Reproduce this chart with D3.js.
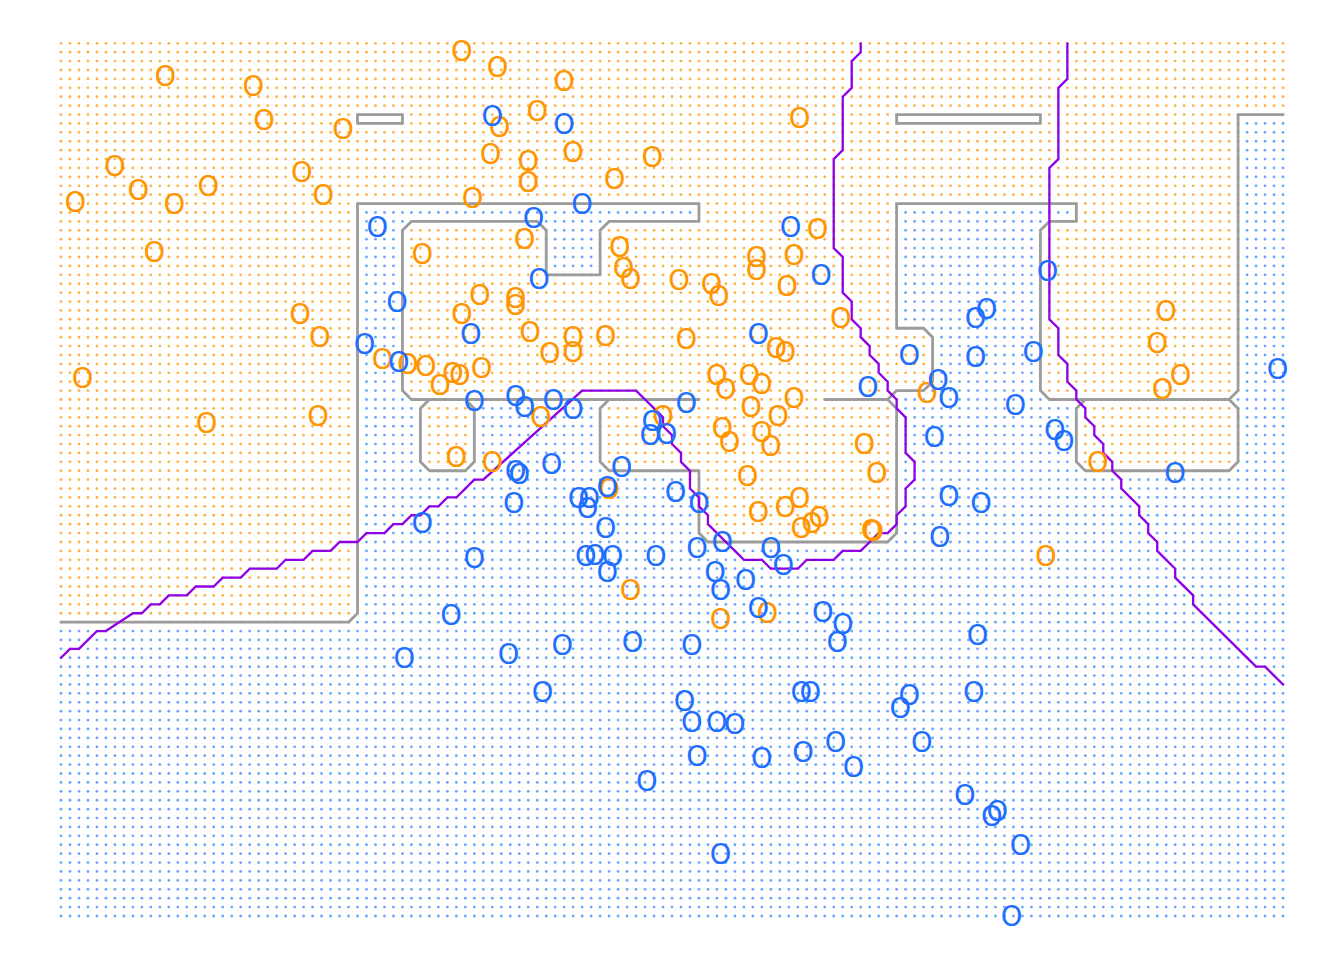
<!DOCTYPE html>
<html><head><meta charset="utf-8">
<script src="https://cdn.jsdelivr.net/npm/d3@7"></script>
<style>html,body{margin:0;padding:0;background:#fff;} svg{display:block;}</style>
</head><body>
<svg id="chart" width="1344" height="960"></svg>
<script>
// ---- data (x1, x2 feature space) ----
const orangePoints = [
[-0.37,2.86],[-0.17,2.77],[0.20,2.69],[-2.02,2.72],[-1.53,2.66],[-1.47,2.47],[-1.03,2.42],[0.05,2.52],[-0.16,2.43],[1.51,2.48],
[0.25,2.29],[-0.21,2.28],[0.00,2.24],[0.69,2.26],[-2.30,2.21],[-1.26,2.18],[-1.78,2.10],[-2.17,2.08],[-1.14,2.05],[0.00,2.12],
[0.48,2.14],[-2.52,2.01],[-1.97,2.00],[-0.31,2.03],[1.61,1.86],[-0.02,1.80],[-0.59,1.72],[-2.08,1.73],[0.51,1.76],[1.27,1.70],
[1.48,1.71],[0.53,1.64],[1.27,1.63],[0.57,1.58],[0.84,1.57],[1.02,1.55],[1.44,1.54],[1.06,1.48],[-0.27,1.49],[-0.07,1.47],
[-0.07,1.43],[-0.37,1.38],[-1.27,1.38],[1.74,1.36],[0.01,1.28],[-1.16,1.25],[0.25,1.25],[0.43,1.26],[0.88,1.24],[0.25,1.17],
[0.12,1.16],[1.38,1.19],[1.43,1.17],[-0.81,1.13],[-0.67,1.10],[-0.57,1.09],[-0.26,1.08],[-0.42,1.05],[-0.38,1.04],[-0.49,0.98],
[-2.48,1.02],[1.23,1.04],[1.05,1.04],[1.30,0.99],[1.10,0.96],[1.48,0.91],[2.22,0.94],[1.24,0.86],[1.39,0.81],[0.07,0.80],
[0.75,0.81],[-1.17,0.81],[-1.79,0.77],[1.08,0.74],[1.30,0.72],[1.12,0.66],[1.35,0.64],[1.87,0.65],[-0.40,0.58],[-0.20,0.55],
[1.22,0.47],[1.94,0.49],[0.45,0.40],[1.51,0.35],[1.43,0.30],[1.28,0.27],[1.62,0.24],[1.58,0.21],[1.52,0.18],[1.92,0.16],
[1.91,0.17],[3.17,0.55],[2.88,0.02],[0.57,-0.17],[1.07,-0.33],[1.33,-0.30],[3.55,1.40],[3.50,1.22],[3.63,1.04],[3.53,0.96]
];
const bluePoints = [
[-0.20,2.49],[0.20,2.45],[0.30,2.00],[0.03,1.92],[-0.84,1.87],[1.46,1.87],[0.06,1.58],[1.63,1.60],[-0.73,1.45],[-0.32,1.27],
[-0.91,1.21],[-0.72,1.11],[1.28,1.27],[2.89,1.62],[2.55,1.41],[2.49,1.36],[2.12,1.15],[2.49,1.14],[2.81,1.17],[1.89,0.97],
[2.28,1.01],[2.34,0.91],[2.71,0.87],[4.17,1.07],[-0.30,0.89],[-0.07,0.92],[-0.02,0.86],[0.14,0.90],[0.25,0.85],[0.88,0.88],
[0.69,0.78],[0.68,0.70],[0.77,0.71],[2.26,0.69],[2.93,0.73],[2.98,0.67],[3.60,0.49],[0.13,0.54],[-0.07,0.50],[-0.05,0.48],
[0.52,0.52],[0.28,0.35],[0.34,0.35],[0.33,0.29],[-0.08,0.32],[0.44,0.41],[0.82,0.38],[0.95,0.32],[2.34,0.36],[2.52,0.32],
[0.43,0.18],[-0.59,0.21],[2.29,0.13],[-0.30,0.01],[0.32,0.02],[0.37,0.03],[0.47,0.02],[0.71,0.02],[0.94,0.07],[1.08,0.10],
[1.35,0.07],[1.42,-0.03],[0.44,-0.07],[1.04,-0.07],[1.21,-0.11],[1.07,-0.17],[-0.43,-0.31],[1.28,-0.27],[1.64,-0.29],[1.75,-0.36],
[1.72,-0.46],[2.50,-0.42],[0.58,-0.46],[0.19,-0.48],[0.91,-0.48],[-0.69,-0.55],[-0.11,-0.53],[0.08,-0.74],[1.52,-0.74],[1.57,-0.74],
[2.48,-0.74],[2.12,-0.76],[2.07,-0.83],[0.87,-0.79],[0.91,-0.91],[1.05,-0.91],[1.15,-0.92],[1.71,-1.02],[2.19,-1.02],[0.94,-1.10],
[1.30,-1.11],[1.53,-1.08],[1.81,-1.16],[0.66,-1.24],[2.43,-1.32],[2.61,-1.41],[2.58,-1.44],[2.74,-1.60],[1.07,-1.65],[2.69,-2.00]
];

// evaluation grid for the classifier
const gridXRange = [-2.6, 4.2];
const gridYRange = [-2.0, 2.9];
const gridStep = 0.05;

// regions classified as orange (the rest of the grid is blue)
const orangeRegions = [
  [[-2.7,3.0],[4.3,3.0],[4.3,2.5],[3.95,2.5],[3.95,0.95],[3.9,0.9],[2.9,0.9],[2.85,0.95],[2.85,1.85],[2.9,1.9],
   [3.05,1.9],[3.05,2.0],[2.05,2.0],[2.05,1.3],[2.2,1.3],[2.25,1.25],[2.25,1.0],[2.2,0.95],[2.05,0.95],[2.0,0.9],
   [2.05,0.85],[2.05,0.15],[2.0,0.1],[1.0,0.1],[0.95,0.15],[0.95,0.5],[0.45,0.5],[0.4,0.55],[0.4,0.85],[0.45,0.9],
   [-0.65,0.9],[-0.7,0.95],[-0.7,1.85],[-0.65,1.9],[0.05,1.9],[0.1,1.85],[0.1,1.6],[0.4,1.6],[0.4,1.85],[0.45,1.9],
   [0.95,1.9],[0.95,2.0],[-0.95,2.0],[-0.95,-0.3],[-1.0,-0.35],[-2.7,-0.35]],
  [[-0.55,0.9],[-0.35,0.9],[-0.3,0.85],[-0.3,0.55],[-0.35,0.5],[-0.55,0.5],[-0.6,0.55],[-0.6,0.85]],
  [[3.1,0.9],[3.9,0.9],[3.95,0.85],[3.95,0.55],[3.9,0.5],[3.1,0.5],[3.05,0.55],[3.05,0.85]]
];

// classifier decision boundary (grey)
const classifierBoundary = [
  [[-2.6,-0.35],[-1.0,-0.35],[-0.95,-0.3],[-0.95,2.0],[0.95,2.0],[0.95,1.9],[0.45,1.9],[0.4,1.85],[0.4,1.6],[0.1,1.6],
   [0.1,1.85],[0.05,1.9],[-0.65,1.9],[-0.7,1.85],[-0.7,0.95],[-0.65,0.9],[0.95,0.9]],
  [[0.45,0.9],[0.4,0.85],[0.4,0.55],[0.45,0.5],[0.95,0.5],[0.95,0.15],[1.0,0.1],[2.0,0.1],[2.05,0.15],[2.05,0.85],
   [2.0,0.9],[1.65,0.9]],
  [[2.0,0.9],[2.05,0.95],[2.2,0.95],[2.25,1.0],[2.25,1.25],[2.2,1.3],[2.05,1.3],[2.05,2.0],[3.05,2.0],[3.05,1.9],
   [2.9,1.9],[2.85,1.85],[2.85,0.95],[2.9,0.9],[3.9,0.9],[3.95,0.95],[3.95,2.5],[4.2,2.5]],
  [[-0.55,0.9],[-0.6,0.85],[-0.6,0.55],[-0.55,0.5],[-0.35,0.5],[-0.3,0.55],[-0.3,0.85],[-0.35,0.9]],
  [[3.1,0.9],[3.05,0.85],[3.05,0.55],[3.1,0.5],[3.9,0.5],[3.95,0.55],[3.95,0.85],[3.9,0.9]],
  [[-0.95,2.5],[-0.7,2.5],[-0.7,2.45],[-0.95,2.45],[-0.95,2.5]],
  [[2.05,2.5],[2.85,2.5],[2.85,2.45],[2.05,2.45],[2.05,2.5]]
];

// Bayes decision boundary (purple)
const bayesBoundary = [
  [[-2.6,-0.55],[-2.55,-0.5],[-2.5,-0.5],[-2.4,-0.4],[-2.35,-0.4],[-2.2,-0.3],[-2.15,-0.3],[-2.1,-0.25],[-2.05,-0.25],
   [-2.0,-0.2],[-1.9,-0.2],[-1.85,-0.15],[-1.75,-0.15],[-1.7,-0.1],[-1.6,-0.1],[-1.55,-0.05],[-1.4,-0.05],[-1.35,0],
   [-1.25,0],[-1.2,0.05],[-1.1,0.05],[-1.05,0.1],[-0.95,0.1],[-0.9,0.15],[-0.8,0.15],[-0.75,0.2],[-0.7,0.2],[-0.65,0.25],
   [-0.6,0.25],[-0.55,0.3],[-0.5,0.3],[-0.45,0.35],[-0.4,0.35],[-0.3,0.45],[-0.25,0.45],[0.3,0.95],[0.6,0.95],[0.65,0.9],
   [0.7,0.85],[0.75,0.8],[0.75,0.75],[0.8,0.7],[0.8,0.65],[0.85,0.6],[0.85,0.55],[0.9,0.5],[0.9,0.4],[0.95,0.35],
   [0.95,0.3],[1.0,0.25],[1.0,0.2],[1.05,0.15],[1.1,0.1],[1.15,0.05],[1.2,0.0],[1.3,0.0],[1.35,-0.05],[1.5,-0.05],
   [1.55,0.0],[1.7,0.0],[1.75,0.05],[1.85,0.05],[1.9,0.1],[1.95,0.15],[2.0,0.15],[2.05,0.2],[2.05,0.25],[2.1,0.3],
   [2.1,0.4],[2.15,0.45],[2.15,0.55],[2.1,0.6],[2.1,0.8],[2.05,0.85],[2.05,0.9],[2.0,0.95],[2.0,1.0],[1.95,1.05],
   [1.95,1.1],[1.9,1.15],[1.9,1.2],[1.85,1.25],[1.85,1.3],[1.8,1.35],[1.8,1.45],[1.75,1.5],[1.75,1.7],[1.7,1.75],
   [1.7,2.25],[1.75,2.3],[1.75,2.6],[1.8,2.65],[1.8,2.8],[1.85,2.85],[1.85,2.9]],
  [[3.0,2.9],[3.0,2.7],[2.95,2.65],[2.95,2.25],[2.9,2.2],[2.9,1.35],[2.95,1.3],[2.95,1.15],[3.0,1.1],[3.0,1.0],
   [3.05,0.95],[3.05,0.9],[3.1,0.85],[3.1,0.8],[3.15,0.75],[3.15,0.7],[3.2,0.65],[3.2,0.6],[3.25,0.55],[3.25,0.5],
   [3.3,0.45],[3.3,0.4],[3.4,0.3],[3.4,0.25],[3.45,0.2],[3.45,0.15],[3.5,0.1],[3.5,0.05],[3.6,-0.05],[3.6,-0.1],
   [3.7,-0.2],[3.7,-0.25],[4.05,-0.6],[4.1,-0.6],[4.2,-0.7]]
];

// ---- drawing ----
const svg = d3.select("#chart");
const x = d3.scaleLinear().domain(gridXRange).range([61, 1283]);
const y = d3.scaleLinear().domain(gridYRange).range([916, 43.3]);

const nx = Math.round((gridXRange[1]-gridXRange[0])/gridStep);
const ny = Math.round((gridYRange[1]-gridYRange[0])/gridStep);
const grid = [];
for (let i = 0; i <= nx; i++) {
  for (let j = 0; j <= ny; j++) {
    const gx = +(gridXRange[0] + i*gridStep).toFixed(4);
    const gy = +(gridYRange[0] + j*gridStep).toFixed(4);
    const isOrange = orangeRegions.some(p => d3.polygonContains(p, [gx, gy]));
    grid.push({gx, gy, cls: isOrange ? 1 : 0});
  }
}

svg.append("g").selectAll("circle").data(grid).join("circle")
  .attr("cx", d => x(d.gx)).attr("cy", d => y(d.gy)).attr("r", 1.4)
  .attr("fill", d => d.cls ? "#ffb043" : "#6aa5ff");

const line = d3.line().x(d => x(d[0])).y(d => y(d[1]));

svg.append("g").selectAll("path").data(classifierBoundary).join("path")
  .attr("d", line).attr("fill", "none").attr("stroke", "#9c9c9c")
  .attr("stroke-width", 2.8).attr("stroke-linejoin", "round").attr("stroke-linecap", "round");

svg.append("g").selectAll("path").data(bayesBoundary).join("path")
  .attr("d", line).attr("fill", "none").attr("stroke", "#8f00e6")
  .attr("stroke-width", 2.3).attr("stroke-linejoin", "round").attr("stroke-linecap", "round");

const pts = orangePoints.map(p => ({p, c: "#ff9500"})).concat(bluePoints.map(p => ({p, c: "#1f6fff"})));
svg.append("g").selectAll("text").data(pts).join("text")
  .attr("x", d => x(d.p[0])).attr("y", d => y(d.p[1])).attr("dy", "0.37em")
  .attr("text-anchor", "middle")
  .attr("font-family", "'DejaVu Sans', sans-serif").attr("font-size", "27.5px")
  .attr("fill", d => d.c)
  .text("O");
</script>
</body></html>
